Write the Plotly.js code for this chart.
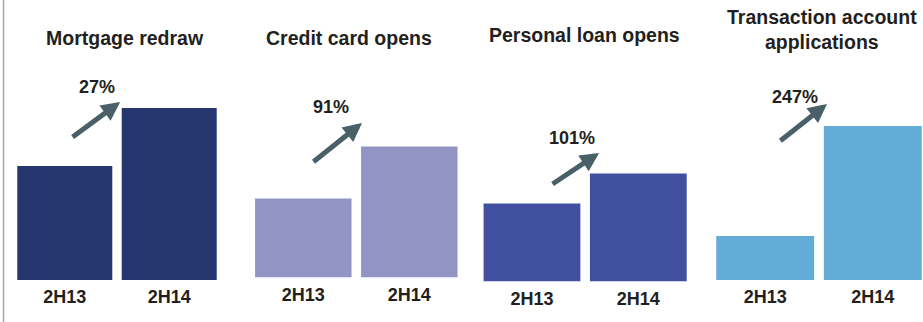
<!DOCTYPE html>
<html>
<head>
<meta charset="utf-8">
<script src="https://cdn.plot.ly/plotly-3.0.1.min.js"></script>
<style>html,body{margin:0;padding:0;background:#fff;}#chart{width:923px;height:322px;}</style>
</head>
<body>
<div id="chart"></div>
<script>
// ---- data ----
const periods = ['2H13', '2H14'];
const panelTitles = ['Mortgage redraw', 'Credit card opens', 'Personal loan opens', 'Transaction account<br>applications'];
const mortgageRedraw = [114, 172];
const creditCardOpens = [79, 131];
const personalLoanOpens = [78, 108];
const transactionAccountApps = [44, 154];
const changeLabels = ['27%', '91%', '101%', '247%'];
const barColors = ['#26366f', '#9295c4', '#404f9f', '#64acd8'];

// ---- layout config (positions / styles) ----
const W = 923, H = 322;
const series = [mortgageRedraw, creditCardOpens, personalLoanOpens, transactionAccountApps];
const panels = [
  {x0: 12.6, x1: 221.4, xr: [-0.5, 1.5], base: 280, title: {x: 125, y: 38},
   lab: {x: 0.306, y: 193}, arr: {x: 0.53, y: 178, ax: -49, ay: 36}},
  {x0: 250.3, x1: 462.3, xr: [-0.5, 1.5], base: 277.5, title: {x: 348.5, y: 38},
   lab: {x: 0.261, y: 170.5}, arr: {x: 0.554, y: 154.5, ax: -50, ay: 40}},
  {x0: 478.8, x1: 691.5, xr: [-0.5, 1.5], base: 281.5, title: {x: 584.5, y: 35},
   lab: {x: 0.377, y: 143.5}, arr: {x: 0.631, y: 128.5, ax: -48, ay: 32}},
  {x0: 711.4, x1: 923, xr: [-0.5, 1.467], base: 280, title: {x: 822, y: 29.5},
   lab: {x: 0.277, y: 183}, arr: {x: 0.574, y: 176, ax: -48, ay: 38}}
];

const FONT = 'Liberation Sans, Arial, Helvetica, sans-serif';
const TXT = '#231f20';
const ARROW = '#4a6068';

const traces = [];
const layout = {
  width: W, height: H,
  margin: {l: 0, r: 0, t: 0, b: 0},
  paper_bgcolor: '#fff', plot_bgcolor: 'rgba(0,0,0,0)',
  showlegend: false,
  bargap: 0.09,
  font: {family: FONT, color: TXT},
  annotations: [],
  shapes: [{type: 'line', xref: 'paper', yref: 'paper', x0: 3.5 / W, x1: 3.5 / W, y0: 0, y1: 1,
            line: {color: '#a6a6a6', width: 1.5}}]
};

panels.forEach((p, i) => {
  const n = i === 0 ? '' : String(i + 1);
  traces.push({
    type: 'bar', x: periods, y: series[i],
    xaxis: 'x' + n, yaxis: 'y' + n,
    marker: {color: barColors[i], line: {width: 0}},
    hoverinfo: 'x+y'
  });
  layout['xaxis' + n] = {
    domain: [p.x0 / W, p.x1 / W], range: p.xr, anchor: 'y' + n,
    showgrid: false, zeroline: false, showline: false, ticks: '',
    ticklabelstandoff: 4,
    tickfont: {family: FONT, size: 18, color: TXT, weight: 'bold'},
    fixedrange: true
  };
  layout['yaxis' + n] = {
    domain: [(H - p.base) / H, 1], range: [0, p.base], anchor: 'x' + n,
    visible: false, fixedrange: true
  };
  layout.annotations.push({
    xref: 'paper', yref: 'paper', x: p.title.x / W, y: 1 - p.title.y / H,
    xanchor: 'center', yanchor: 'middle', showarrow: false,
    text: '<b>' + panelTitles[i] + '</b>',
    font: {family: FONT, size: 19.5, color: TXT}
  });
  layout.annotations.push({
    xref: 'x' + n, yref: 'y' + n, x: p.lab.x, y: p.lab.y,
    xanchor: 'center', yanchor: 'middle', showarrow: false,
    text: '<b>' + changeLabels[i] + '</b>',
    font: {family: FONT, size: 18, color: TXT}
  });
  layout.annotations.push({
    xref: 'x' + n, yref: 'y' + n, x: p.arr.x, y: p.arr.y,
    ax: p.arr.ax, ay: p.arr.ay, axref: 'pixel', ayref: 'pixel',
    showarrow: true, arrowhead: 2, arrowsize: 0.75, arrowwidth: 5,
    arrowcolor: ARROW, text: ''
  });
});

Plotly.newPlot('chart', traces, layout, {displayModeBar: false, staticPlot: true});
</script>
</body>
</html>
